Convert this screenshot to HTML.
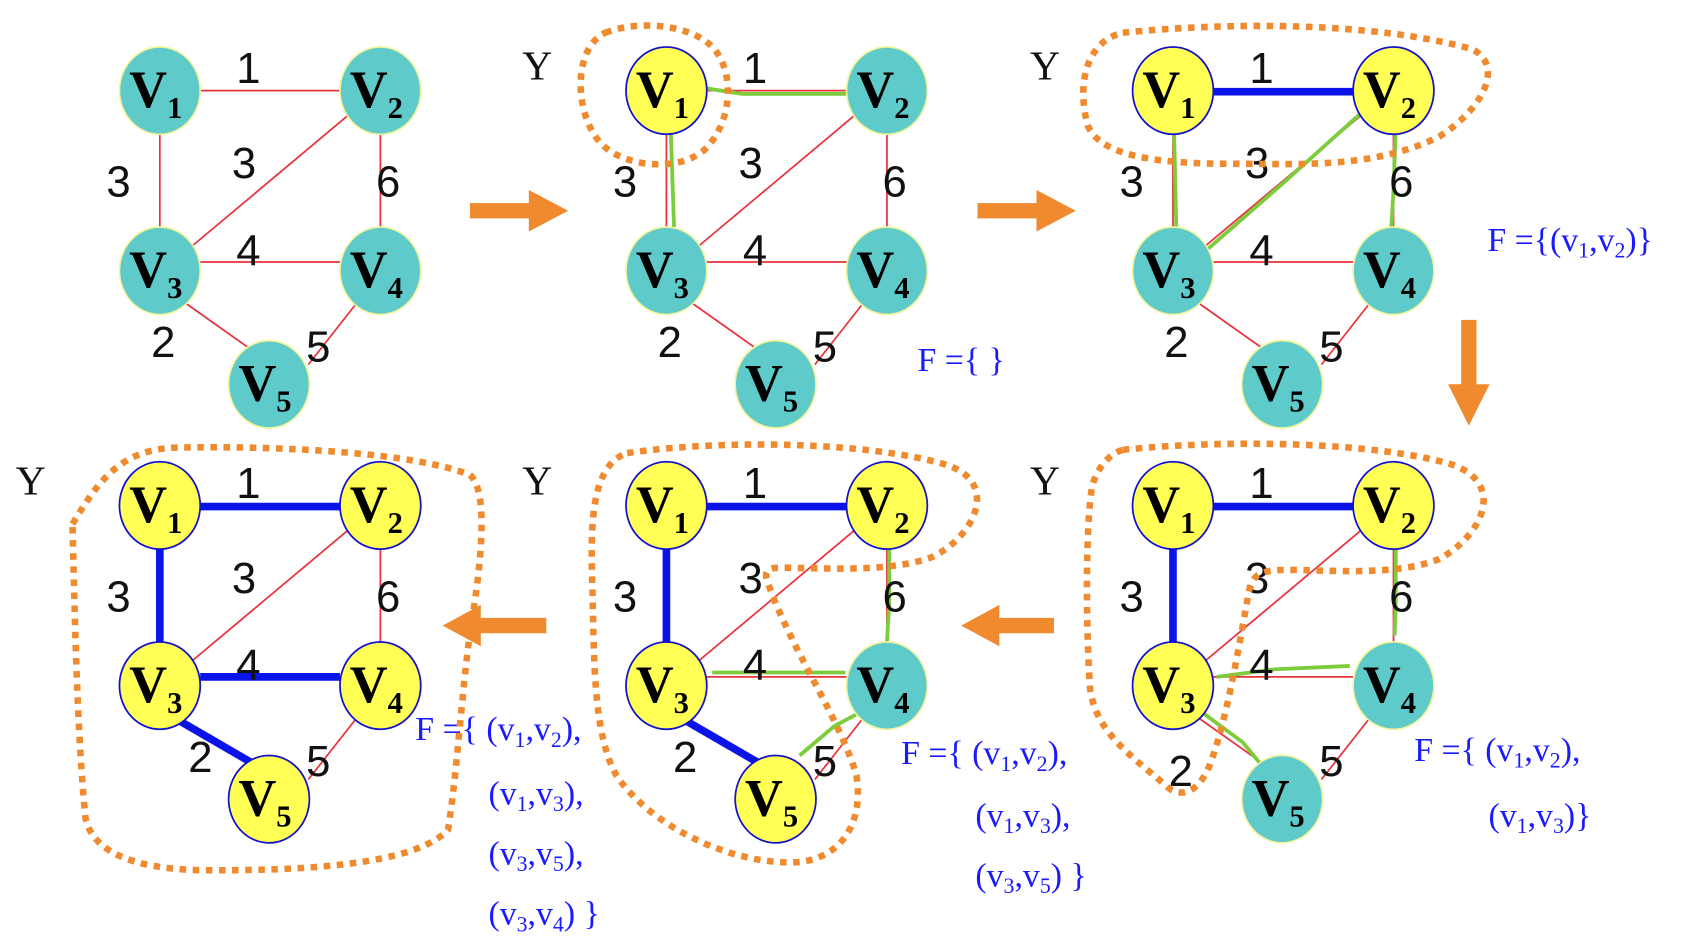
<!DOCTYPE html>
<html><head><meta charset="utf-8"><style>
html,body{margin:0;padding:0;background:#fff;width:1704px;height:952px;overflow:hidden}
svg{display:block}
.w{font-family:"Liberation Sans",sans-serif;font-size:40px;fill:#111}
.v{font-family:"Liberation Serif",serif;font-weight:bold;font-size:48px;fill:#000}
.v tspan{font-size:28px}
.y{font-family:"Liberation Serif",serif;font-size:38px;fill:#111}
.f{font-family:"Liberation Serif",serif;font-size:31px;fill:#1a1aff}
.s{font-size:20px}
.r{stroke:#e8333d;stroke-width:1.6;fill:none}
.b{stroke:#0b14e8;stroke-width:7;fill:none}
.g{stroke:#7dcc3c;stroke-width:3.5;fill:none}
.t{fill:#5ecaca;stroke:#f4f49a;stroke-width:1.5}
.yl{fill:#ffff55;stroke:#1212cc;stroke-width:1.6}
.d{fill:none;stroke:#ef8a2f;stroke-width:6;stroke-dasharray:6 6}
.a{fill:#ef8a2f}
</style></head><body>
<svg width="1704" height="952" viewBox="0 0 1560 872" xmlns="http://www.w3.org/2000/svg">

<!-- arrows -->
<path class="a" d="M430 186 H484 V174 L520 193 L484 212 V200 H430 Z"/>
<path class="a" d="M895 186 H949 V174 L985 193 L949 212 V200 H895 Z"/>
<path class="a" d="M1338 293 V352 H1326 L1345 390 L1364 352 H1352 V293 Z"/>
<path class="a" d="M965 566 H915 V554 L880 573 L915 592 V580 H965 Z"/>
<path class="a" d="M500 566 H440 V554 L405 573 L440 592 V580 H500 Z"/>

<!-- Y labels -->
<text class="y" x="478" y="73">Y</text>
<text class="y" x="943" y="73">Y</text>
<text class="y" x="14" y="453">Y</text>
<text class="y" x="478" y="453">Y</text>
<text class="y" x="943" y="453">Y</text>

<!-- F texts -->
<text class="f" x="840" y="340">F ={ }</text>
<text class="f" x="1362" y="230">F ={(v<tspan class="s" dy="6">1</tspan><tspan dy="-6">,v</tspan><tspan class="s" dy="6">2</tspan><tspan dy="-6">)}</tspan></text>

<text class="f" x="1295" y="697">F ={ (v<tspan class="s" dy="6">1</tspan><tspan dy="-6">,v</tspan><tspan class="s" dy="6">2</tspan><tspan dy="-6">),</tspan></text>
<text class="f" x="1363" y="757">(v<tspan class="s" dy="6">1</tspan><tspan dy="-6">,v</tspan><tspan class="s" dy="6">3</tspan><tspan dy="-6">)}</tspan></text>

<text class="f" x="825" y="700">F ={ (v<tspan class="s" dy="6">1</tspan><tspan dy="-6">,v</tspan><tspan class="s" dy="6">2</tspan><tspan dy="-6">),</tspan></text>
<text class="f" x="893" y="757">(v<tspan class="s" dy="6">1</tspan><tspan dy="-6">,v</tspan><tspan class="s" dy="6">3</tspan><tspan dy="-6">),</tspan></text>
<text class="f" x="893" y="812">(v<tspan class="s" dy="6">3</tspan><tspan dy="-6">,v</tspan><tspan class="s" dy="6">5</tspan><tspan dy="-6">) }</tspan></text>

<text class="f" x="380" y="678">F ={ (v<tspan class="s" dy="6">1</tspan><tspan dy="-6">,v</tspan><tspan class="s" dy="6">2</tspan><tspan dy="-6">),</tspan></text>
<text class="f" x="447" y="737">(v<tspan class="s" dy="6">1</tspan><tspan dy="-6">,v</tspan><tspan class="s" dy="6">3</tspan><tspan dy="-6">),</tspan></text>
<text class="f" x="447" y="792">(v<tspan class="s" dy="6">3</tspan><tspan dy="-6">,v</tspan><tspan class="s" dy="6">5</tspan><tspan dy="-6">),</tspan></text>
<text class="f" x="447" y="847">(v<tspan class="s" dy="6">3</tspan><tspan dy="-6">,v</tspan><tspan class="s" dy="6">4</tspan><tspan dy="-6">) }</tspan></text>

<!-- PANEL 1 -->
<g transform="translate(0,0)">
<path class="r" d="M183 83H311 M146 123V208 M318 106L176 225 M348 123V208 M183 240H311 M170 278L252 336 M326 278L282 334"/>
<ellipse class="t" cx="146" cy="83" rx="37" ry="40"/><ellipse class="t" cx="348" cy="83" rx="37" ry="40"/>
<ellipse class="t" cx="146" cy="248" rx="37" ry="40"/><ellipse class="t" cx="348" cy="248" rx="37" ry="40"/>
<ellipse class="t" cx="246" cy="352" rx="37" ry="40"/>
<text class="v" x="118" y="98">V<tspan dy="10">1</tspan></text><text class="v" x="320" y="98">V<tspan dy="10">2</tspan></text>
<text class="v" x="118" y="263">V<tspan dy="10">3</tspan></text><text class="v" x="320" y="263">V<tspan dy="10">4</tspan></text>
<text class="v" x="218" y="367">V<tspan dy="10">5</tspan></text>
<text class="w" x="216" y="76">1</text><text class="w" x="97" y="180">3</text><text class="w" x="212" y="163">3</text>
<text class="w" x="344" y="180">6</text><text class="w" x="216" y="243">4</text><text class="w" x="138" y="327">2</text><text class="w" x="280" y="331">5</text>
</g>

<!-- PANEL 2 -->
<g transform="translate(464,0)">
<path class="r" d="M183 83H311 M146 123V208 M318 106L176 225 M348 123V208 M183 240H311 M170 278L252 336 M326 278L282 334"/>
<path class="g" d="M183 81L215 86H311 M150 120L153 208"/>
<ellipse class="yl" cx="146" cy="83" rx="37" ry="40"/><ellipse class="t" cx="348" cy="83" rx="37" ry="40"/>
<ellipse class="t" cx="146" cy="248" rx="37" ry="40"/><ellipse class="t" cx="348" cy="248" rx="37" ry="40"/>
<ellipse class="t" cx="246" cy="352" rx="37" ry="40"/>
<text class="v" x="118" y="98">V<tspan dy="10">1</tspan></text><text class="v" x="320" y="98">V<tspan dy="10">2</tspan></text>
<text class="v" x="118" y="263">V<tspan dy="10">3</tspan></text><text class="v" x="320" y="263">V<tspan dy="10">4</tspan></text>
<text class="v" x="218" y="367">V<tspan dy="10">5</tspan></text>
<text class="w" x="216" y="76">1</text><text class="w" x="97" y="180">3</text><text class="w" x="212" y="163">3</text>
<text class="w" x="344" y="180">6</text><text class="w" x="216" y="243">4</text><text class="w" x="138" y="327">2</text><text class="w" x="280" y="331">5</text>
<path class="d" d="M90 30 C120 18 170 22 190 45 C210 70 205 115 180 138 C155 158 110 152 90 135 C62 112 58 45 90 30 Z"/>
</g>

<!-- PANEL 3 -->
<g transform="translate(928,0)">
<path class="r" d="M146 123V208 M318 106L176 225 M348 123V208 M183 240H311 M170 278L252 336 M326 278L282 334"/>
<path class="b" d="M183 84H311"/>
<path class="g" d="M147 120L149 208 M320 102L250 165 L178 228 M350 120L348 175 L346 208"/>
<ellipse class="yl" cx="146" cy="83" rx="37" ry="40"/><ellipse class="yl" cx="348" cy="83" rx="37" ry="40"/>
<ellipse class="t" cx="146" cy="248" rx="37" ry="40"/><ellipse class="t" cx="348" cy="248" rx="37" ry="40"/>
<ellipse class="t" cx="246" cy="352" rx="37" ry="40"/>
<text class="v" x="118" y="98">V<tspan dy="10">1</tspan></text><text class="v" x="320" y="98">V<tspan dy="10">2</tspan></text>
<text class="v" x="118" y="263">V<tspan dy="10">3</tspan></text><text class="v" x="320" y="263">V<tspan dy="10">4</tspan></text>
<text class="v" x="218" y="367">V<tspan dy="10">5</tspan></text>
<text class="w" x="216" y="76">1</text><text class="w" x="97" y="180">3</text><text class="w" x="212" y="163">3</text>
<text class="w" x="344" y="180">6</text><text class="w" x="216" y="243">4</text><text class="w" x="138" y="327">2</text><text class="w" x="280" y="331">5</text>
<path class="d" d="M100 30 C200 20 330 20 420 45 C450 60 430 100 390 125 C330 155 260 150 200 150 C140 150 80 145 68 115 C58 80 65 38 100 30 Z"/>
</g>

<!-- PANEL 4 -->
<g transform="translate(0,380)">
<path class="r" d="M318 106L176 225 M348 123V208 M326 278L282 334"/>
<path class="b" d="M183 84H311 M146 123V208 M183 240H311 M160 278L236 322"/>
<ellipse class="yl" cx="146" cy="83" rx="37" ry="40"/><ellipse class="yl" cx="348" cy="83" rx="37" ry="40"/>
<ellipse class="yl" cx="146" cy="248" rx="37" ry="40"/><ellipse class="yl" cx="348" cy="248" rx="37" ry="40"/>
<ellipse class="yl" cx="246" cy="352" rx="37" ry="40"/>
<text class="v" x="118" y="98">V<tspan dy="10">1</tspan></text><text class="v" x="320" y="98">V<tspan dy="10">2</tspan></text>
<text class="v" x="118" y="263">V<tspan dy="10">3</tspan></text><text class="v" x="320" y="263">V<tspan dy="10">4</tspan></text>
<text class="v" x="218" y="367">V<tspan dy="10">5</tspan></text>
<text class="w" x="216" y="76">1</text><text class="w" x="97" y="180">3</text><text class="w" x="212" y="163">3</text>
<text class="w" x="344" y="180">6</text><text class="w" x="216" y="243">4</text><text class="w" x="172" y="327">2</text><text class="w" x="280" y="331">5</text>
<path class="d" d="M66 100 C90 60 110 32 160 30 C260 28 380 35 430 55 C448 70 440 140 430 200 C422 260 418 330 410 380 C380 412 280 418 180 417 C120 415 85 400 78 370 C70 290 68 180 66 100 Z"/>
</g>

<!-- PANEL 5 -->
<g transform="translate(464,380)">
<path class="r" d="M318 106L176 225 M348 123V208 M183 240H311 M326 278L282 334"/>
<path class="b" d="M183 84H311 M146 123V208 M160 278L236 322"/>
<path class="g" d="M350 120L350 175 L348 208 M188 236H310 M328 270L300 285 L268 312"/>
<ellipse class="yl" cx="146" cy="83" rx="37" ry="40"/><ellipse class="yl" cx="348" cy="83" rx="37" ry="40"/>
<ellipse class="yl" cx="146" cy="248" rx="37" ry="40"/><ellipse class="t" cx="348" cy="248" rx="37" ry="40"/>
<ellipse class="yl" cx="246" cy="352" rx="37" ry="40"/>
<text class="v" x="118" y="98">V<tspan dy="10">1</tspan></text><text class="v" x="320" y="98">V<tspan dy="10">2</tspan></text>
<text class="v" x="118" y="263">V<tspan dy="10">3</tspan></text><text class="v" x="320" y="263">V<tspan dy="10">4</tspan></text>
<text class="v" x="218" y="367">V<tspan dy="10">5</tspan></text>
<text class="w" x="216" y="76">1</text><text class="w" x="97" y="180">3</text><text class="w" x="212" y="163">3</text>
<text class="w" x="344" y="180">6</text><text class="w" x="216" y="243">4</text><text class="w" x="152" y="327">2</text><text class="w" x="280" y="331">5</text>
<path class="d" d="M110 35 C200 22 330 25 400 45 C452 60 430 110 390 130 C350 145 290 140 250 140 C230 140 238 150 245 170 C270 230 305 280 320 330 C328 380 300 410 260 410 C200 410 130 375 100 330 C78 290 80 220 78 150 C76 90 80 45 110 35 Z"/>
</g>

<!-- PANEL 6 -->
<g transform="translate(928,380)">
<path class="r" d="M318 106L176 225 M348 123V208 M183 240H311 M170 278L252 336 M326 278L282 334"/>
<path class="b" d="M183 84H311 M146 123V208"/>
<path class="g" d="M350 120L350 175 L349 202 M186 240L240 233 L308 230 M172 272L210 300 L233 328"/>
<ellipse class="yl" cx="146" cy="83" rx="37" ry="40"/><ellipse class="yl" cx="348" cy="83" rx="37" ry="40"/>
<ellipse class="yl" cx="146" cy="248" rx="37" ry="40"/><ellipse class="t" cx="348" cy="248" rx="37" ry="40"/>
<ellipse class="t" cx="246" cy="352" rx="37" ry="40"/>
<text class="v" x="118" y="98">V<tspan dy="10">1</tspan></text><text class="v" x="320" y="98">V<tspan dy="10">2</tspan></text>
<text class="v" x="118" y="263">V<tspan dy="10">3</tspan></text><text class="v" x="320" y="263">V<tspan dy="10">4</tspan></text>
<text class="v" x="218" y="367">V<tspan dy="10">5</tspan></text>
<text class="w" x="216" y="76">1</text><text class="w" x="97" y="180">3</text><text class="w" x="212" y="163">3</text>
<text class="w" x="344" y="180">6</text><text class="w" x="216" y="243">4</text><text class="w" x="142" y="340">2</text><text class="w" x="280" y="331">5</text>
<path class="d" d="M100 32 C200 22 330 25 400 45 C452 62 430 110 390 132 C350 148 290 142 250 142 C220 142 218 150 215 165 C205 220 195 280 180 320 C168 350 150 350 140 340 C105 310 75 290 70 250 C66 190 66 100 72 65 C78 45 90 35 100 32 Z"/>
</g>
</svg>
</body></html>
